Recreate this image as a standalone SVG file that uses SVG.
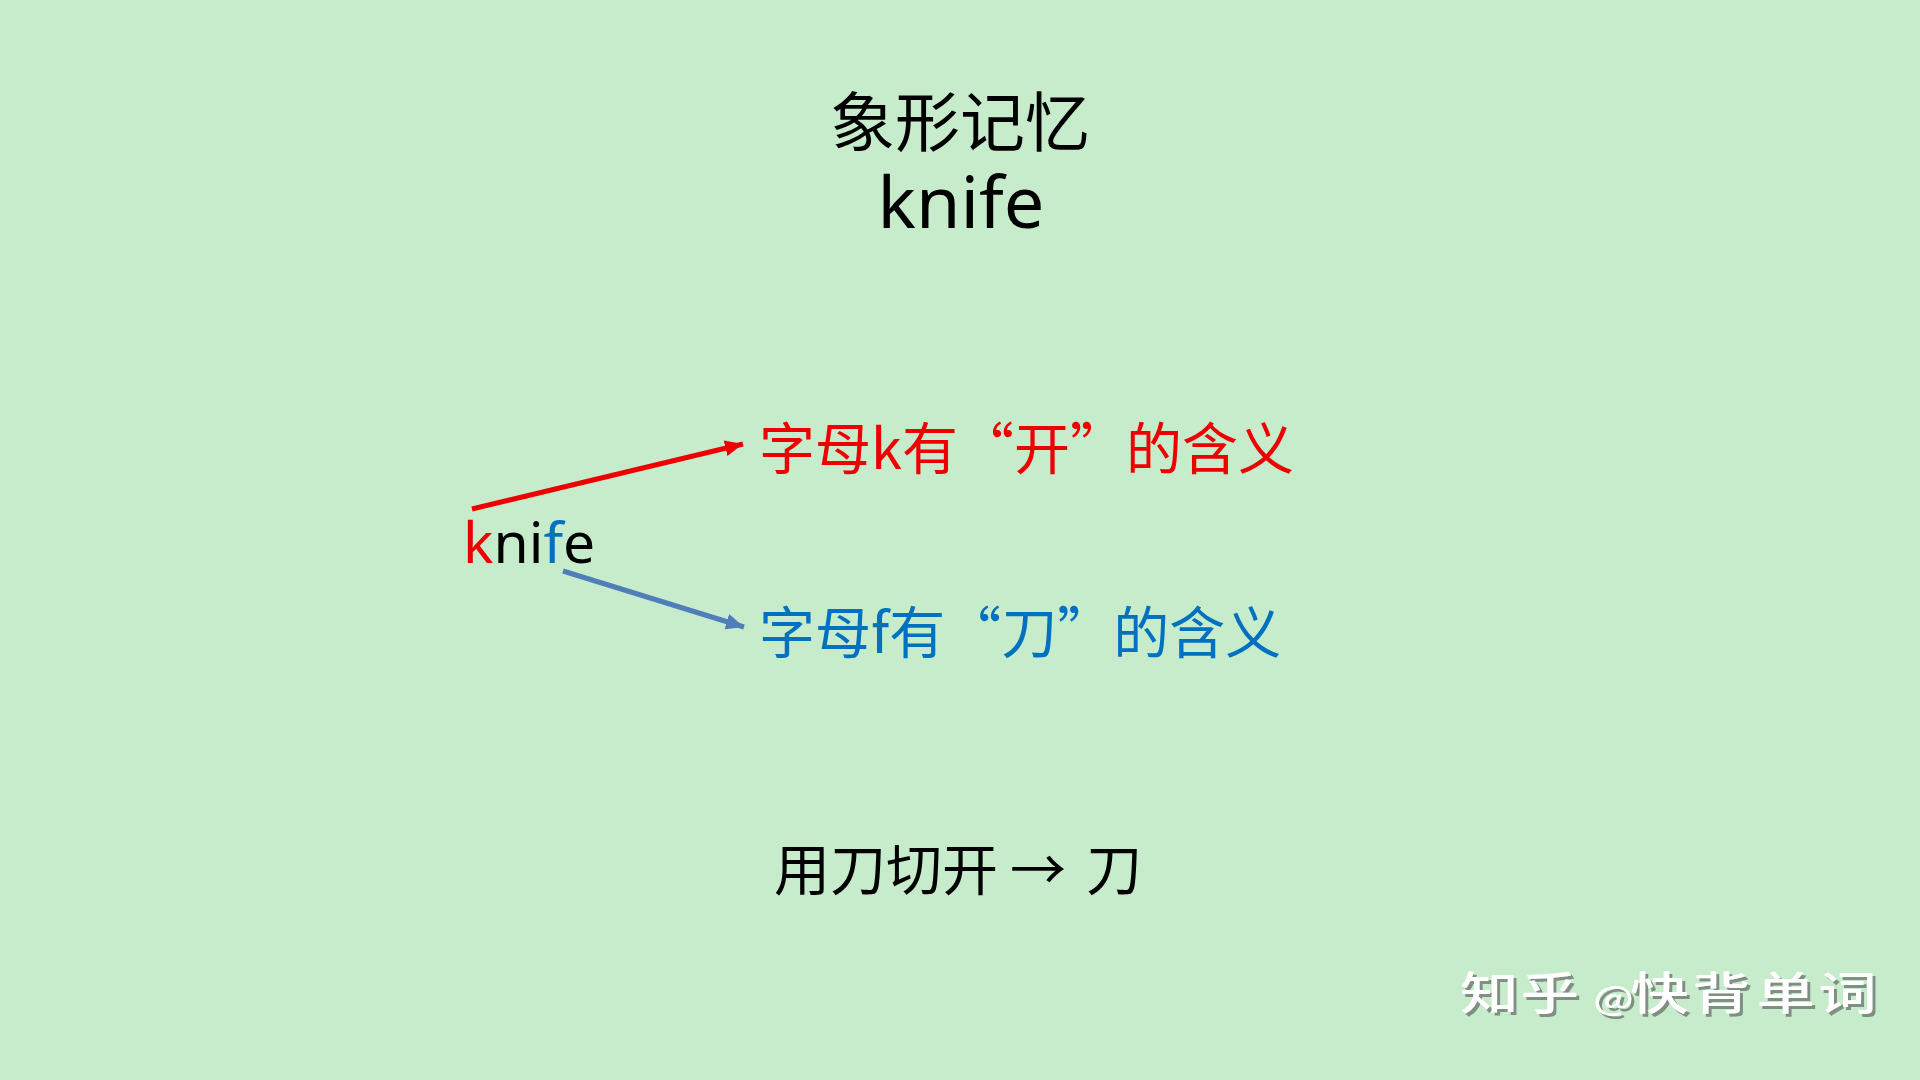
<svg xmlns="http://www.w3.org/2000/svg" width="1920" height="1080" viewBox="0 0 1920 1080">
<defs>
<style>
.cjk{font-family:"Noto Sans CJK SC","Noto Sans",sans-serif;}
.lat{font-family:"Noto Sans","Noto Sans CJK SC",sans-serif;}
.red{fill:#EE0000;}
.blue{fill:#0070C0;}
.blk{fill:#000000;}
.at{font-size:32px;}
</style>
<filter id="shadow" x="-10%" y="-20%" width="120%" height="150%">
<feDropShadow dx="3" dy="3" stdDeviation="0.6" flood-color="#7F8F82" flood-opacity="1"/>
</filter>
<marker id="ahRed" markerUnits="userSpaceOnUse" markerWidth="20" markerHeight="16" refX="18" refY="8" orient="auto">
<path d="M0,0 L18,8 L0,16 z" fill="#EE0000"/>
</marker>
<marker id="ahBlue" markerUnits="userSpaceOnUse" markerWidth="20" markerHeight="16" refX="18" refY="8" orient="auto">
<path d="M0,0 L18,8 L0,16 z" fill="#4F7EBB"/>
</marker>
</defs>
<rect x="0" y="0" width="1920" height="1080" fill="#C7ECCC"/>
<g id="title">
<text class="cjk blk" x="960" y="146" font-size="65" text-anchor="middle">象形记忆</text>
<text class="lat blk" x="961" y="228" font-size="72" text-anchor="middle">knife</text>
</g>
<g id="word">
<text class="lat" x="463" y="563" font-size="57"><tspan class="red">k</tspan><tspan class="blk">ni</tspan><tspan class="blue">f</tspan><tspan class="blk">e</tspan></text>
</g>
<g id="meaning-k">
<text class="cjk red" x="759" y="469" font-size="56">字母k有“开”的含义</text>
</g>
<g id="meaning-f">
<text class="cjk blue" x="759" y="653" font-size="56">字母f有“刀”的含义</text>
</g>
<g id="summary">
<text class="cjk blk" x="774 830 886 942 998 1010 1064 1086" y="890" font-size="56">用刀切开 → 刀</text>
</g>
<g id="connectors">
<line x1="472" y1="509" x2="743" y2="444" stroke="#EE0000" stroke-width="5" marker-end="url(#ahRed)"/>
<line x1="563" y1="571" x2="744" y2="627" stroke="#4F7EBB" stroke-width="5" marker-end="url(#ahBlue)"/>
</g>
<g id="watermark" font-weight="500" font-size="45" filter="url(#shadow)">
<g transform="translate(1460 1010) scale(1.3 1)">
<text class="cjk" y="0" fill="#FFFFFF"><tspan x="0">知</tspan><tspan x="46.5">乎 </tspan><tspan x="102.5" class="at">@</tspan><tspan x="131">快</tspan><tspan x="178.5">背</tspan><tspan x="228">单</tspan><tspan x="275.5">词</tspan></text>
</g>
</g>
</svg>
